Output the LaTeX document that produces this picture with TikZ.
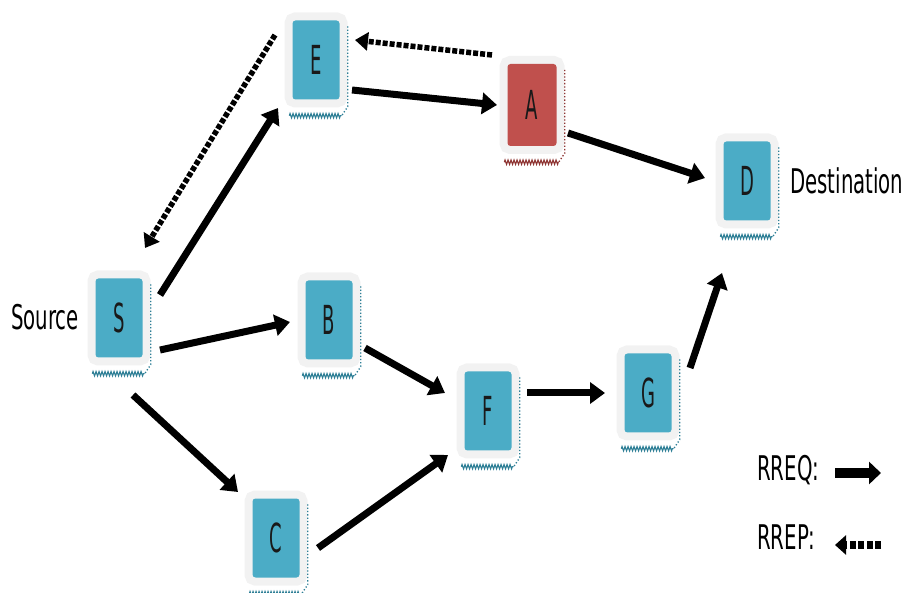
\documentclass[tikz,border=0pt]{standalone}
\usepackage{fontspec}
\setmainfont[FakeStretch=0.58]{DejaVu Sans}
\newfontfamily\nodefont[FakeStretch=0.45]{DejaVu Sans}
\usetikzlibrary{arrows.meta,decorations.pathmorphing}
\definecolor{nodeblue}{HTML}{4BACC6}
\definecolor{nodered}{HTML}{C0504D}
\definecolor{halo}{HTML}{F2F2F2}
\definecolor{shblue}{HTML}{2E7F96}
\definecolor{shred}{HTML}{8E3432}
\tikzset{
 netnode/.style={rectangle, rounded corners=3pt, minimum width=47pt, minimum height=79pt, inner sep=0pt,
   font=\nodefont\fontsize{40}{40}\selectfont, text=black!90, preaction={draw=halo, line width=16pt, fill=halo}},
 rreq/.style={line width=7pt, -{Triangle[length=15pt,width=21pt]}},
 rrep/.style={line width=5.5pt, dash pattern=on 5pt off 2pt, -{Triangle[length=13pt,width=18pt]}},
 lbl/.style={font=\fontsize{34}{34}\selectfont, inner sep=0pt, text=black},
 zig/.style={decorate, decoration={zigzag, segment length=3pt, amplitude=2.2pt}, line width=1.1pt},
 dots/.style={dotted, line width=1.3pt},
}
\newcommand\nodeshadow[2]{%
 \draw[zig,#2] ([xshift=-3pt,yshift=-16pt]#1.south west) -- ([xshift=2pt,yshift=-16pt]#1.south east);
 \draw[dots,#2] ([xshift=8pt,yshift=-6pt]#1.north east) -- ([xshift=8pt,yshift=-7pt]#1.south east) -- ([xshift=2pt,yshift=-16pt]#1.south east);
}
\begin{document}
\begin{tikzpicture}[x=1pt,y=-1pt]
\useasboundingbox (0,0) rectangle (908,593);
\node[netnode, fill=nodeblue] (E) at (316,60) {E};
\node[netnode, fill=nodered, minimum width=49pt, minimum height=82pt] (A) at (532,105) {A};
\node[netnode, fill=nodeblue] (D) at (747,181) {D};
\node[netnode, fill=nodeblue] (S) at (119,318) {S};
\node[netnode, fill=nodeblue] (B) at (329,320) {B};
\node[netnode, fill=nodeblue] (F) at (488,411) {F};
\node[netnode, fill=nodeblue] (G) at (648,393) {G};
\node[netnode, fill=nodeblue] (C) at (276,538) {C};
\nodeshadow{E}{shblue}
\nodeshadow{A}{shred}
\nodeshadow{D}{shblue}
\nodeshadow{S}{shblue}
\nodeshadow{B}{shblue}
\nodeshadow{F}{shblue}
\nodeshadow{G}{shblue}
\nodeshadow{C}{shblue}
\node[lbl] (src) at (45,317) {Source};
\node[lbl, anchor=west] (dst) at (790,181) {Destination};
\node[lbl, anchor=west] (lq) at (757,470) {RREQ:};
\node[lbl, anchor=west] (lp) at (757,537) {RREP:};
% RREQ arrows
\draw[rreq] ([shift={(41,-23)}]S.center) -- ([shift={(-38,48)}]E.center);
\draw[rreq] ([shift={(41,32)}]S.center) -- ([shift={(-39,2)}]B.center);
\draw[rreq] ([shift={(14,77)}]S.center) -- ([shift={(-38,-46)}]C.center);
\draw[rreq] ([shift={(36,30)}]E.center) -- ([shift={(-35,0)}]A.center);
\draw[rreq] ([shift={(36,28)}]A.center) -- ([shift={(-42,-3)}]D.center);
\draw[rreq] ([shift={(36,28)}]B.center) -- ([shift={(-43,-18)}]F.center);
\draw[rreq] ([shift={(42,10)}]C.center) -- ([shift={(-40,44)}]F.center);
\draw[rreq] ([shift={(39,-18)}]F.center) -- ([shift={(-43,0)}]G.center);
\draw[rreq] ([shift={(42,-25)}]G.center) -- ([shift={(-25,92)}]D.center);
% RREP arrows
\draw[rrep] ([shift={(-40,-50)}]A.center) -- ([shift={(39,-20)}]E.center);
\draw[rrep] ([shift={(-41,-25)}]E.center) -- ([shift={(26,-70)}]S.center);
% legend
\coordinate (q1) at (835,473);
\coordinate (q2) at (881,473);
\coordinate (p1) at (881,545);
\coordinate (p2) at (835,545);
\draw[line width=10pt, -{Triangle[length=12pt,width=22pt]}] (q1) -- (q2);
\draw[line width=8pt, dash pattern=on 6pt off 2.5pt, -{Triangle[length=11pt,width=19pt]}] (p1) -- (p2);
\end{tikzpicture}
\end{document}
